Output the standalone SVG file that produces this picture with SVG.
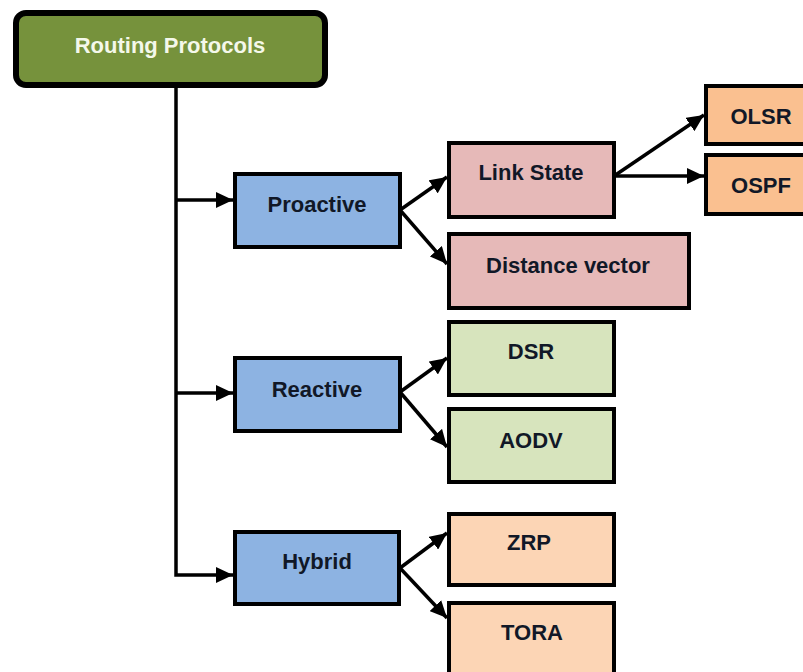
<svg xmlns="http://www.w3.org/2000/svg" width="803" height="672" viewBox="0 0 803 672">
  <style>
    .box { stroke: #000; stroke-width: 4; }
    .blue { fill: #8DB3E2; }
    .pink { fill: #E6B9B8; }
    .green { fill: #D7E4BD; }
    .orange { fill: #FAC090; }
    .peach { fill: #FCD5B5; }
    .label { font-family: "Liberation Sans", Arial, sans-serif; font-weight: bold; font-size: 22px; fill: #111827; text-anchor: middle; }
    .root-label { fill: #F4F8EA; }
    .wire { fill: none; stroke: #000; stroke-width: 3.5; }
  </style>
  <defs>
    <marker id="arrow" markerUnits="userSpaceOnUse" markerWidth="18" markerHeight="16" refX="17" refY="8" orient="auto">
      <path d="M0,0 L17,8 L0,16 Z" fill="#000"/>
    </marker>
  </defs>

  <rect width="803" height="672" fill="#fff"/>

  <!-- connectors -->
  <g id="connectors">
    <path class="wire" d="M176,86 L176,575 L233,575" marker-end="url(#arrow)"/>
    <path class="wire" d="M176,200 L233,200" marker-end="url(#arrow)"/>
    <path class="wire" d="M176,393 L233,393" marker-end="url(#arrow)"/>
    <path class="wire" d="M400,210 L447,177" marker-end="url(#arrow)"/>
    <path class="wire" d="M400,210 L447,264" marker-end="url(#arrow)"/>
    <path class="wire" d="M400,392 L447,358" marker-end="url(#arrow)"/>
    <path class="wire" d="M400,392 L447,447" marker-end="url(#arrow)"/>
    <path class="wire" d="M400,568 L447,533" marker-end="url(#arrow)"/>
    <path class="wire" d="M400,568 L447,618" marker-end="url(#arrow)"/>
    <path class="wire" d="M614,176 L704,115" marker-end="url(#arrow)"/>
    <path class="wire" d="M614,176 L704,176" marker-end="url(#arrow)"/>
  </g>

  <g id="routing-protocols">
    <rect x="16" y="13" width="309" height="72" rx="10" fill="#76923C" stroke="#000" stroke-width="6"/>
    <text class="label root-label" x="170" y="53">Routing Protocols</text>
  </g>

  <g id="proactive">
    <rect class="box blue" x="235" y="174" width="165" height="73"/>
    <text class="label" x="317" y="212">Proactive</text>
  </g>
  <g id="reactive">
    <rect class="box blue" x="235" y="358" width="165" height="73"/>
    <text class="label" x="317" y="397">Reactive</text>
  </g>
  <g id="hybrid">
    <rect class="box blue" x="235" y="532" width="164" height="72"/>
    <text class="label" x="317" y="569">Hybrid</text>
  </g>

  <g id="link-state">
    <rect class="box pink" x="449" y="143" width="165" height="74"/>
    <text class="label" x="531" y="180">Link State</text>
  </g>
  <g id="distance-vector">
    <rect class="box pink" x="449" y="234" width="240" height="74"/>
    <text class="label" x="568" y="273">Distance vector</text>
  </g>

  <g id="olsr">
    <rect class="box orange" x="706" y="86" width="112" height="58"/>
    <text class="label" x="761" y="124">OLSR</text>
  </g>
  <g id="ospf">
    <rect class="box orange" x="706" y="155" width="112" height="59"/>
    <text class="label" x="761" y="193">OSPF</text>
  </g>

  <g id="dsr">
    <rect class="box green" x="449" y="322" width="165" height="73"/>
    <text class="label" x="531" y="359">DSR</text>
  </g>
  <g id="aodv">
    <rect class="box green" x="449" y="409" width="165" height="73"/>
    <text class="label" x="531" y="448">AODV</text>
  </g>

  <g id="zrp">
    <rect class="box peach" x="449" y="514" width="165" height="71"/>
    <text class="label" x="529" y="550">ZRP</text>
  </g>
  <g id="tora">
    <rect class="box peach" x="449" y="603" width="165" height="80"/>
    <text class="label" x="532" y="640">TORA</text>
  </g>
</svg>
